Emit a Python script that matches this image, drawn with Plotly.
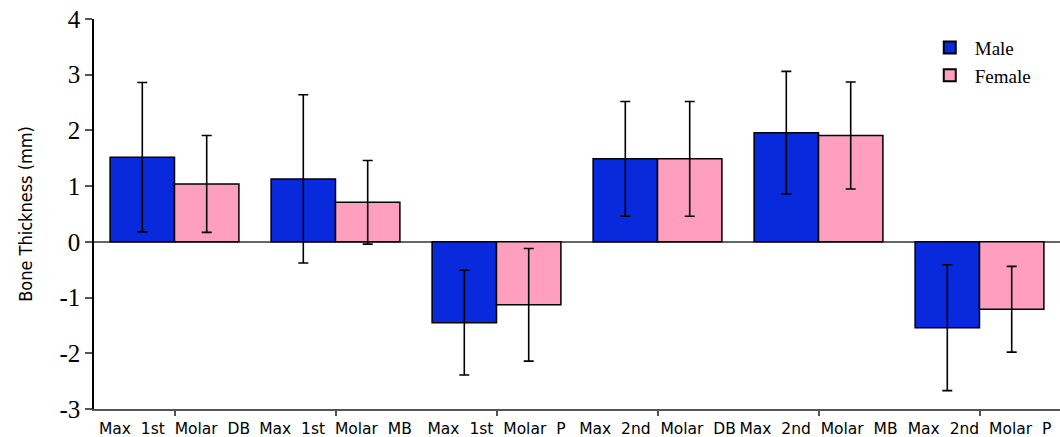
import plotly.graph_objects as go

# Bone thickness by site and sex (mean ± SD, mm)
sites = ["Max\u00a0\u00a01st\u00a0\u00a0Molar\u00a0\u00a0DB",
         "Max\u00a0\u00a01st\u00a0\u00a0Molar\u00a0\u00a0MB",
         "Max\u00a0\u00a01st\u00a0\u00a0Molar\u00a0\u00a0P",
         "Max\u00a0\u00a02nd\u00a0\u00a0Molar\u00a0\u00a0DB",
         "Max\u00a0\u00a02nd\u00a0\u00a0Molar\u00a0\u00a0MB",
         "Max\u00a0\u00a02nd\u00a0\u00a0Molar\u00a0\u00a0P"]
male_mean = [1.52, 1.13, -1.45, 1.49, 1.96, -1.54]
male_sd = [1.34, 1.51, 0.94, 1.03, 1.10, 1.13]
female_mean = [1.04, 0.71, -1.13, 1.49, 1.91, -1.21]
female_sd = [0.87, 0.75, 1.01, 1.03, 0.96, 0.77]

y_ticks = [-3, -2, -1, 0, 1, 2, 3, 4]
y_tick_text = ["-3", "-2", "-1", "0", "1", "2", "3", "4"]

x_idx = list(range(len(sites)))

err_style = dict(type="data", visible=True, color="black", thickness=1.6, width=5)

fig = go.Figure()
fig.add_trace(go.Bar(
    name="Male", x=x_idx, y=male_mean,
    marker=dict(color="#0829DC", line=dict(color="black", width=1.5)),
    error_y=dict(array=male_sd, **err_style),
))
fig.add_trace(go.Bar(
    name="Female", x=x_idx, y=female_mean,
    marker=dict(color="#FF9FBF", line=dict(color="black", width=1.5)),
    error_y=dict(array=female_sd, **err_style),
))

fig.update_layout(
    width=1060, height=437,
    margin=dict(l=94, r=0, t=19, b=28),
    paper_bgcolor="white", plot_bgcolor="white",
    barmode="group", bargap=0.2, bargroupgap=0,
    showlegend=True,
    legend=dict(
        x=0.86, y=0.975, xanchor="left", yanchor="top",
        font=dict(family="Liberation Serif", size=19, color="black"),
        bgcolor="rgba(0,0,0,0)", itemsizing="constant", itemwidth=40,
        tracegroupgap=6,
    ),
    xaxis=dict(
        range=[-0.5, 5.5],
        tickmode="array", tickvals=x_idx, ticktext=sites,
        showline=True, linecolor="#555555", linewidth=1.5,
        ticks="outside", ticklen=5, tickcolor="#555555", tickwidth=1.5,
        showgrid=False, zeroline=False,
        tickfont=dict(family="DejaVu Sans", size=15.5, color="black"),
    ),
    yaxis=dict(
        range=[-3, 4],
        tickmode="array", tickvals=y_ticks, ticktext=y_tick_text,
        showline=True, linecolor="black", linewidth=1.5,
        ticks="outside", ticklen=7, tickcolor="#555555", tickwidth=1.5,
        showgrid=False,
        zeroline=True, zerolinecolor="#666666", zerolinewidth=1.5,
        tickfont=dict(family="Liberation Serif", size=25, color="black"),
        title=dict(text="Bone Thickness (mm)", standoff=22,
                   font=dict(family="DejaVu Sans Condensed, sans-serif",
                             size=18, color="black")),
    ),
)

fig.write_html("out.html")
